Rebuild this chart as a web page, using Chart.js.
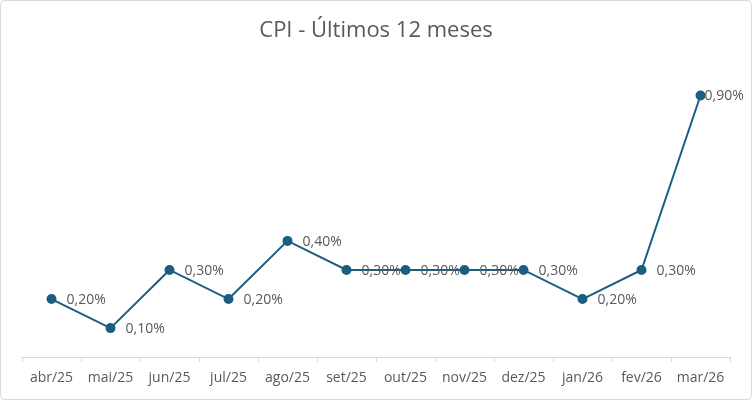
<!DOCTYPE html>
<html>
<head>
<meta charset="utf-8">
<script src="https://cdn.jsdelivr.net/npm/chart.js@4/dist/chart.umd.min.js"></script>
<style>
  body { margin: 0; background: #fff; }
  #wrap { width: 753px; height: 403px; position: relative; }
</style>
</head>
<body>
<div id="wrap"><canvas id="cpiChart" width="753" height="403"></canvas></div>
<script>
// Dados do gráfico
const meses = ['abr/25', 'mai/25', 'jun/25', 'jul/25', 'ago/25', 'set/25', 'out/25', 'nov/25', 'dez/25', 'jan/26', 'fev/26', 'mar/26'];
const cpi = [0.20, 0.10, 0.30, 0.20, 0.40, 0.30, 0.30, 0.30, 0.30, 0.20, 0.30, 0.90];

const corLinha = '#1b5e80';
const corTexto = '#595959';
const fonte = "'Open Sans', 'Liberation Sans', sans-serif";

// Moldura arredondada em volta do gráfico
const moldura = {
  id: 'moldura',
  beforeDraw(chart) {
    const ctx = chart.ctx;
    ctx.save();
    ctx.fillStyle = '#fff';
    ctx.fillRect(0, 0, chart.width, chart.height);
    ctx.strokeStyle = '#d9d9d9';
    ctx.lineWidth = 1;
    ctx.beginPath();
    ctx.roundRect(0.5, 0.5, chart.width - 2, chart.height - 4, 4);
    ctx.stroke();
    ctx.restore();
  }
};

// Rótulos de dados à direita de cada ponto
const rotulos = {
  id: 'rotulos',
  afterDatasetsDraw(chart) {
    const ctx = chart.ctx;
    const meta = chart.getDatasetMeta(0);
    ctx.save();
    ctx.font = '14px ' + fonte;
    ctx.fillStyle = corTexto;
    ctx.textBaseline = 'middle';
    ctx.textAlign = 'left';
    meta.data.forEach((pt, i) => {
      const txt = cpi[i].toFixed(2).replace('.', ',') + '%';
      const w = ctx.measureText(txt).width;
      let x = pt.x + 15;
      if (x + w > chart.width - 6) x = pt.x + 4;
      ctx.fillText(txt, x, pt.y + 1);
    });
    ctx.restore();
  }
};

new Chart(document.getElementById('cpiChart'), {
  type: 'line',
  data: {
    labels: meses,
    datasets: [{
      data: cpi,
      borderColor: corLinha,
      backgroundColor: corLinha,
      borderWidth: 2,
      pointRadius: 4,
      pointHoverRadius: 4,
      tension: 0
    }]
  },
  options: {
    responsive: false,
    animation: false,
    layout: { padding: { left: 22, right: 23, top: 4, bottom: 10 } },
    plugins: {
      legend: { display: false },
      tooltip: { enabled: false },
      title: {
        display: true,
        text: 'CPI - Últimos 12 meses',
        color: corTexto,
        font: { family: fonte, size: 22, weight: 'normal' },
        padding: { top: 14, bottom: 22 }
      }
    },
    scales: {
      x: {
        offset: true,
        grid: {
          offset: true,
          drawOnChartArea: false,
          drawTicks: true,
          tickLength: 5,
          color: '#d9d9d9'
        },
        border: { color: '#d9d9d9' },
        ticks: {
          color: corTexto,
          font: { family: fonte, size: 14 },
          padding: 7,
          maxRotation: 0
        }
      },
      y: {
        display: false,
        min: 0,
        max: 1.0
      }
    }
  },
  plugins: [moldura, rotulos]
});
</script>
</body>
</html>
